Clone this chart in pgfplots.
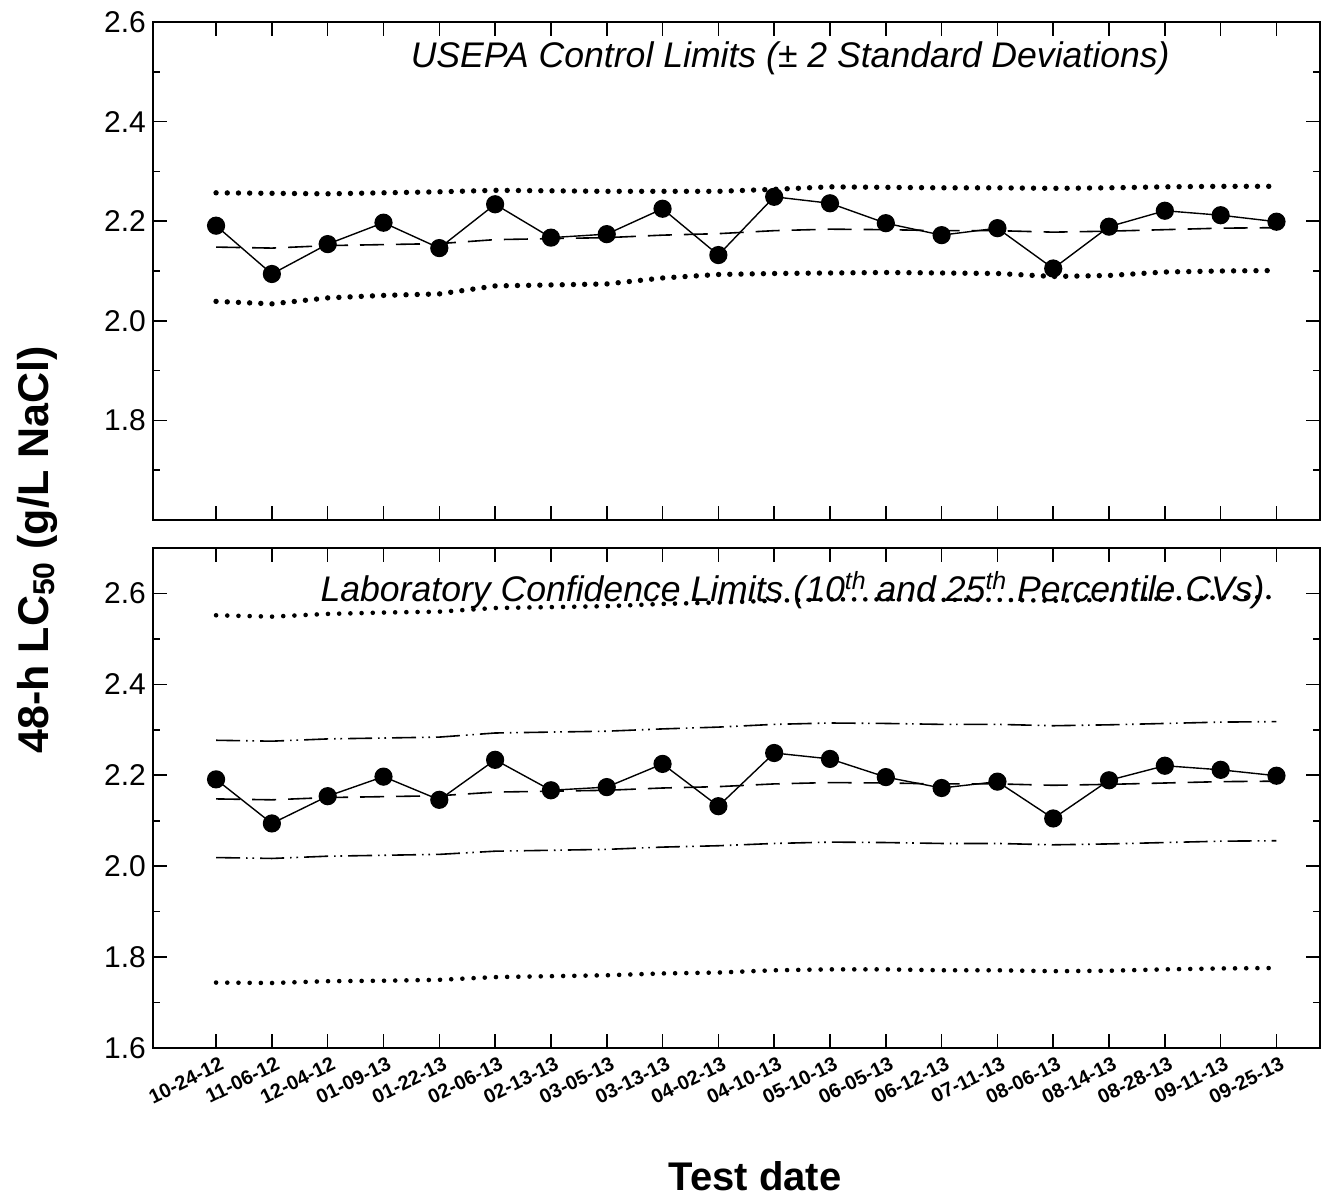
\documentclass[border=0pt]{standalone}
\usepackage{fontspec}
\setmainfont{Liberation Sans}
\usepackage{pgfplots}
\pgfplotsset{compat=1.18}
\usepackage{pgfplotstable}

% 48-h LC50 per test, running mean, USEPA control limits (mean +/- 2 SD)
% and laboratory confidence limits (10th and 25th percentile CVs)
\pgfplotstableread{
x  lc    mean  ucl   lcl   u25   l25   u10   l10
0  2.191 2.148 2.257 2.039 2.552 1.744 2.277 2.019
1  2.094 2.146 2.256 2.034 2.549 1.743 2.275 2.017
2  2.154 2.151 2.255 2.046 2.555 1.747 2.280 2.022
3  2.197 2.153 2.257 2.051 2.558 1.748 2.282 2.024
4  2.146 2.155 2.259 2.054 2.560 1.750 2.284 2.026
5  2.234 2.163 2.262 2.070 2.568 1.756 2.293 2.033
6  2.167 2.165 2.261 2.072 2.570 1.758 2.295 2.035
7  2.174 2.167 2.260 2.074 2.572 1.760 2.297 2.037
8  2.225 2.172 2.260 2.086 2.577 1.764 2.302 2.042
9  2.132 2.175 2.260 2.093 2.580 1.766 2.306 2.045
10 2.249 2.181 2.264 2.095 2.584 1.771 2.312 2.050
11 2.236 2.184 2.269 2.096 2.587 1.773 2.315 2.053
12 2.196 2.183 2.268 2.097 2.587 1.773 2.314 2.052
13 2.172 2.181 2.267 2.096 2.586 1.771 2.312 2.050
14 2.186 2.181 2.267 2.095 2.586 1.771 2.312 2.050
15 2.105 2.178 2.266 2.089 2.584 1.769 2.309 2.047
16 2.189 2.180 2.267 2.091 2.586 1.770 2.311 2.049
17 2.221 2.183 2.269 2.098 2.589 1.773 2.314 2.052
18 2.212 2.186 2.270 2.100 2.591 1.775 2.317 2.055
19 2.199 2.187 2.270 2.101 2.592 1.776 2.318 2.056
}\lcdata

\pgfplotsset{
  panel/.style={
    scale only axis,
    width=583.5pt,
    xmin=-1.13, xmax=19.78,
    xtick={0,...,19},
    tick align=inside,
    xtick pos=both, ytick pos=both,
    major tick length=7pt,
    minor tick length=3.5pt,
    every tick/.style={black, line width=0.8pt},
    axis line style={line width=1pt},
    /pgf/number format/assume math mode=true,
    /pgf/number format/fixed,
    /pgf/number format/precision=1,
    /pgf/number format/fixed zerofill,
    yticklabel style={font=\fontsize{15}{15}\selectfont},
    clip=false,
  },
  meanline/.style={black, line width=0.8pt, dash pattern=on 12pt off 6pt},
  datline/.style={black, line width=0.7pt, mark=*, mark size=4.2pt,
    mark options={solid, fill=black}},
  dotline/.style={black, line width=2.7pt, line cap=round,
    dash pattern=on 0pt off 5.6pt},
  dashdot/.style={black, line width=0.8pt,
    dash pattern=on 12pt off 3pt on 0.8pt off 2.4pt on 0.8pt off 3pt},
}

\begin{document}
\begin{tikzpicture}
\useasboundingbox (0,0) rectangle (661pt,598pt);

% upper panel: USEPA control limits
\begin{axis}[panel,
  at={(76.5pt,338pt)}, anchor=south west,
  height=249pt,
  ymin=1.6, ymax=2.6,
  ytick={1.8,2.0,2.2,2.4,2.6},
  minor ytick={1.7,1.9,2.1,2.3,2.5},
  xticklabels={},
]
\addplot[dotline] table[x=x, y=ucl] {\lcdata};
\addplot[dotline] table[x=x, y=lcl] {\lcdata};
\addplot[meanline] table[x=x, y=mean] {\lcdata};
\addplot[datline] table[x=x, y=lc] {\lcdata};
\node[font=\fontsize{17.8}{18}\selectfont\itshape] at (rel axis cs:0.546,0.928)
  {USEPA Control Limits (\textpm{} 2 Standard Deviations)};
\end{axis}

% lower panel: laboratory confidence limits
\begin{axis}[panel,
  at={(76.5pt,74pt)}, anchor=south west,
  height=250pt,
  ymin=1.6, ymax=2.7,
  ytick={1.6,1.8,2.0,2.2,2.4,2.6},
  minor ytick={1.7,1.9,2.1,2.3,2.5},
  xticklabels={10-24-12,11-06-12,12-04-12,01-09-13,01-22-13,02-06-13,02-13-13,03-05-13,03-13-13,04-02-13,04-10-13,05-10-13,06-05-13,06-12-13,07-11-13,08-06-13,08-14-13,08-28-13,09-11-13,09-25-13},
  xticklabel style={font=\fontsize{10}{10}\selectfont\bfseries,
    inner sep=0pt, xshift=1.5pt, yshift=-4pt, anchor=north east, rotate=26},
]
\addplot[dotline, line width=2.3pt] table[x=x, y=u25] {\lcdata};
\addplot[dotline, line width=2.3pt] table[x=x, y=l25] {\lcdata};
\addplot[dashdot] table[x=x, y=u10] {\lcdata};
\addplot[dashdot] table[x=x, y=l10] {\lcdata};
\addplot[meanline] table[x=x, y=mean] {\lcdata};
\addplot[datline] table[x=x, y=lc] {\lcdata};
\node[font=\fontsize{17.8}{18}\selectfont\itshape] at (rel axis cs:0.548,0.916)
  {Laboratory Confidence Limits (10\textsuperscript{th} and 25\textsuperscript{th} Percentile CVs)};
\end{axis}

\node[rotate=90, font=\fontsize{21.5}{22}\selectfont\bfseries] at (18.5pt,323pt)
  {48-h LC\textsubscript{50} (g/L NaCl)};
\node[anchor=base, font=\fontsize{20}{20}\selectfont\bfseries] at (377.5pt,3pt)
  {Test date};
\end{tikzpicture}
\end{document}
